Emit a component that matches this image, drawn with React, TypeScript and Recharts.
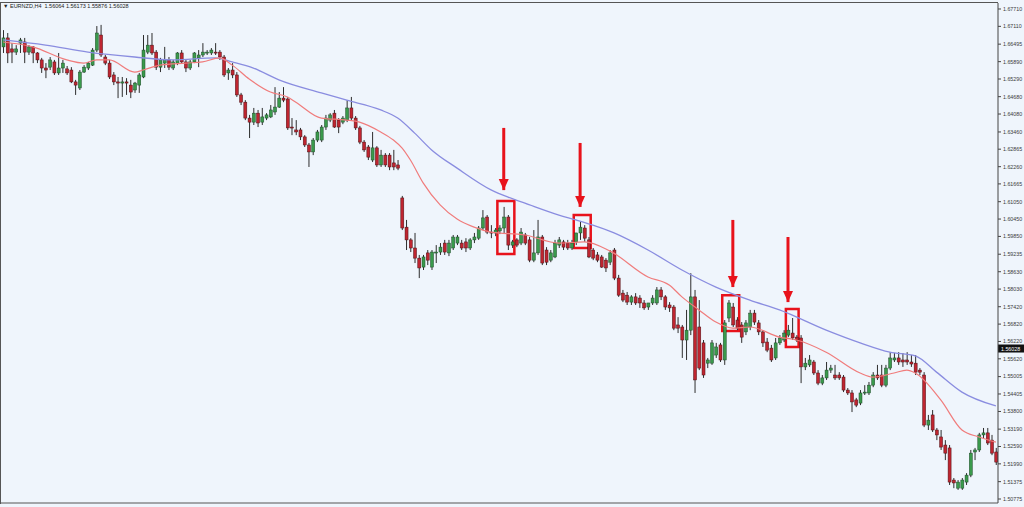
import React from 'react';
import {
  ComposedChart,
  Bar,
  Line,
  XAxis,
  YAxis,
  ReferenceArea,
  ReferenceDot,
  ReferenceLine,
} from 'recharts';

// EURNZD H4 candles: [open, high, low, close]
type Candle = [number, number, number, number];

const openingRange: Candle[] = [
  [1.6640, 1.6698, 1.6619, 1.6671],
  [1.6671, 1.6688, 1.6584, 1.6619],
  [1.6633, 1.6653, 1.6584, 1.6622],
  [1.6622, 1.6646, 1.6612, 1.6633],
  [1.6653, 1.6671, 1.6619, 1.6664],
  [1.6657, 1.6671, 1.6584, 1.6622],
  [1.6622, 1.6646, 1.6612, 1.6640],
  [1.6640, 1.6643, 1.6584, 1.6619],
  [1.6619, 1.6622, 1.6584, 1.6595],
  [1.6595, 1.6602, 1.6550, 1.6567],
  [1.6567, 1.6584, 1.6532, 1.6560],
  [1.6570, 1.6605, 1.6560, 1.6595],
  [1.6588, 1.6595, 1.6543, 1.6550],
  [1.6550, 1.6619, 1.6543, 1.6567],
  [1.6567, 1.6595, 1.6550, 1.6584],
  [1.6564, 1.6574, 1.6543, 1.6550],
  [1.6560, 1.6570, 1.6515, 1.6519],
  [1.6519, 1.6526, 1.6474, 1.6508],
  [1.6498, 1.6560, 1.6491, 1.6553],
  [1.6553, 1.6577, 1.6550, 1.6570],
  [1.6567, 1.6588, 1.6560, 1.6584],
  [1.6577, 1.6636, 1.6574, 1.6629],
  [1.6629, 1.6712, 1.6622, 1.6688],
  [1.6681, 1.6716, 1.6605, 1.6612],
  [1.6605, 1.6612, 1.6577, 1.6584],
  [1.6584, 1.6595, 1.6529, 1.6536],
  [1.6543, 1.6553, 1.6508, 1.6519],
  [1.6519, 1.6536, 1.6463, 1.6515],
  [1.6515, 1.6536, 1.6467, 1.6519],
  [1.6519, 1.6532, 1.6474, 1.6515],
  [1.6508, 1.6526, 1.6463, 1.6484],
  [1.6491, 1.6519, 1.6481, 1.6515],
  [1.6508, 1.6550, 1.6481, 1.6543],
  [1.6536, 1.6681, 1.6532, 1.6629],
  [1.6622, 1.6681, 1.6615, 1.6646],
  [1.6646, 1.6688, 1.6612, 1.6619],
  [1.6622, 1.6629, 1.6560, 1.6570],
  [1.6570, 1.6602, 1.6553, 1.6595],
  [1.6584, 1.6640, 1.6567, 1.6595],
  [1.6595, 1.6605, 1.6560, 1.6570],
  [1.6567, 1.6595, 1.6560, 1.6588],
  [1.6584, 1.6622, 1.6577, 1.6619],
  [1.6619, 1.6629, 1.6581, 1.6588],
  [1.6588, 1.6595, 1.6553, 1.6567],
  [1.6567, 1.6595, 1.6560, 1.6588],
  [1.6588, 1.6622, 1.6584, 1.6619],
  [1.6602, 1.6629, 1.6570, 1.6612],
  [1.6612, 1.6653, 1.6605, 1.6622],
  [1.6619, 1.6629, 1.6612, 1.6622],
  [1.6619, 1.6636, 1.6612, 1.6629],
  [1.6622, 1.6653, 1.6612, 1.6619],
  [1.6622, 1.6629, 1.6595, 1.6605],
  [1.6605, 1.6612, 1.6536, 1.6543],
  [1.6550, 1.6567, 1.6526, 1.6560],
];

const firstSlide: Candle[] = [
  [1.6560, 1.6584, 1.6532, 1.6543],
  [1.6543, 1.6553, 1.6467, 1.6474],
  [1.6474, 1.6481, 1.6439, 1.6449],
  [1.6449, 1.6456, 1.6387, 1.6394],
  [1.6394, 1.6405, 1.6325, 1.6380],
  [1.6380, 1.6429, 1.6370, 1.6411],
  [1.6411, 1.6422, 1.6363, 1.6377],
  [1.6380, 1.6429, 1.6370, 1.6398],
  [1.6394, 1.6411, 1.6387, 1.6405],
  [1.6398, 1.6439, 1.6394, 1.6422],
  [1.6415, 1.6501, 1.6405, 1.6432],
  [1.6432, 1.6484, 1.6429, 1.6463],
  [1.6463, 1.6501, 1.6449, 1.6456],
  [1.6460, 1.6467, 1.6353, 1.6360],
  [1.6363, 1.6394, 1.6335, 1.6360],
  [1.6353, 1.6387, 1.6335, 1.6346],
  [1.6353, 1.6360, 1.6318, 1.6329],
  [1.6329, 1.6335, 1.6294, 1.6301],
  [1.6301, 1.6308, 1.6225, 1.6277],
  [1.6277, 1.6325, 1.6266, 1.6318],
  [1.6318, 1.6353, 1.6311, 1.6346],
  [1.6318, 1.6370, 1.6311, 1.6363],
  [1.6363, 1.6405, 1.6353, 1.6394],
  [1.6387, 1.6411, 1.6380, 1.6405],
  [1.6411, 1.6422, 1.6360, 1.6363],
  [1.6387, 1.6394, 1.6342, 1.6363],
  [1.6380, 1.6401, 1.6373, 1.6394],
  [1.6387, 1.6456, 1.6380, 1.6429],
  [1.6429, 1.6467, 1.6387, 1.6394],
  [1.6394, 1.6401, 1.6353, 1.6360],
  [1.6360, 1.6367, 1.6304, 1.6311],
  [1.6311, 1.6318, 1.6277, 1.6284],
  [1.6294, 1.6301, 1.6249, 1.6259],
  [1.6249, 1.6346, 1.6242, 1.6291],
  [1.6291, 1.6297, 1.6225, 1.6232],
  [1.6232, 1.6284, 1.6225, 1.6266],
  [1.6266, 1.6273, 1.6225, 1.6232],
  [1.6266, 1.6273, 1.6214, 1.6225],
  [1.6239, 1.6284, 1.6214, 1.6225],
  [1.6232, 1.6249, 1.6214, 1.6221],
];

const afterGap: Candle[] = [
  [1.6118, 1.6125, 1.6007, 1.6014],
  [1.6017, 1.6042, 1.5938, 1.5973],
  [1.5973, 1.5979, 1.5931, 1.5945],
  [1.5945, 1.5997, 1.5893, 1.5910],
  [1.5910, 1.5921, 1.5841, 1.5876],
  [1.5879, 1.5921, 1.5869, 1.5914],
  [1.5928, 1.5938, 1.5886, 1.5903],
  [1.5879, 1.5938, 1.5869, 1.5931],
  [1.5928, 1.5955, 1.5893, 1.5931],
  [1.5931, 1.5962, 1.5921, 1.5948],
  [1.5962, 1.5973, 1.5921, 1.5931],
  [1.5928, 1.5973, 1.5917, 1.5962],
  [1.5945, 1.5990, 1.5938, 1.5983],
  [1.5962, 1.5990, 1.5955, 1.5983],
  [1.5962, 1.5973, 1.5938, 1.5945],
  [1.5966, 1.5979, 1.5931, 1.5945],
  [1.5945, 1.5979, 1.5938, 1.5973],
  [1.5973, 1.5997, 1.5962, 1.5983],
  [1.5979, 1.6021, 1.5973, 1.6014],
  [1.6014, 1.6076, 1.6007, 1.6049],
  [1.6052, 1.6059, 1.5993, 1.6000],
  [1.6000, 1.6024, 1.5979, 1.5997],
  [1.5997, 1.6014, 1.5986, 1.6007],
  [1.6004, 1.6024, 1.5993, 1.6014],
  [1.6014, 1.6087, 1.5997, 1.6052],
  [1.6052, 1.6059, 1.5938, 1.5955],
  [1.5955, 1.5973, 1.5945, 1.5966],
  [1.5973, 1.5979, 1.5948, 1.5955],
  [1.5962, 1.6014, 1.5955, 1.6000],
  [1.5990, 1.5997, 1.5955, 1.5962],
  [1.5973, 1.5983, 1.5896, 1.5903],
  [1.5903, 1.6007, 1.5896, 1.5928],
  [1.5928, 1.6042, 1.5921, 1.5983],
  [1.5983, 1.5990, 1.5886, 1.5893],
  [1.5938, 1.5948, 1.5886, 1.5896],
  [1.5903, 1.5938, 1.5896, 1.5928],
  [1.5914, 1.5973, 1.5910, 1.5962],
  [1.5955, 1.5983, 1.5945, 1.5973],
  [1.5966, 1.5973, 1.5938, 1.5948],
  [1.5962, 1.5973, 1.5938, 1.5945],
  [1.5945, 1.5973, 1.5938, 1.5962],
  [1.5966, 1.5997, 1.5955, 1.5997],
  [1.5997, 1.6035, 1.5973, 1.6017],
  [1.6014, 1.6024, 1.5966, 1.5979],
  [1.5973, 1.5983, 1.5910, 1.5914],
  [1.5938, 1.5945, 1.5903, 1.5910],
  [1.5921, 1.5931, 1.5896, 1.5903],
  [1.5914, 1.5921, 1.5876, 1.5879],
  [1.5903, 1.5910, 1.5862, 1.5876],
  [1.5896, 1.5938, 1.5886, 1.5928],
];

const secondSlide: Candle[] = [
  [1.5938, 1.5945, 1.5834, 1.5841],
  [1.5841, 1.5852, 1.5776, 1.5782],
  [1.5789, 1.5800, 1.5758, 1.5765],
  [1.5782, 1.5793, 1.5748, 1.5758],
  [1.5758, 1.5782, 1.5748, 1.5776],
  [1.5776, 1.5789, 1.5748, 1.5755],
  [1.5772, 1.5782, 1.5738, 1.5755],
  [1.5755, 1.5765, 1.5731, 1.5738],
  [1.5741, 1.5755, 1.5731, 1.5755],
  [1.5755, 1.5782, 1.5748, 1.5772],
  [1.5755, 1.5810, 1.5748, 1.5800],
  [1.5800, 1.5810, 1.5765, 1.5776],
  [1.5776, 1.5782, 1.5731, 1.5741],
  [1.5748, 1.5758, 1.5724, 1.5738],
  [1.5741, 1.5748, 1.5661, 1.5668],
  [1.5679, 1.5706, 1.5651, 1.5668],
  [1.5672, 1.5679, 1.5565, 1.5627],
  [1.5627, 1.5731, 1.5558, 1.5661],
  [1.5661, 1.5858, 1.5644, 1.5776],
  [1.5776, 1.5800, 1.5444, 1.5489],
  [1.5672, 1.5765, 1.5523, 1.5530],
  [1.5617, 1.5627, 1.5496, 1.5506],
  [1.5547, 1.5565, 1.5530, 1.5558],
  [1.5547, 1.5627, 1.5541, 1.5617],
  [1.5575, 1.5617, 1.5565, 1.5603],
  [1.5610, 1.5617, 1.5551, 1.5558],
  [1.5558, 1.5696, 1.5541, 1.5686],
  [1.5703, 1.5765, 1.5689, 1.5755],
  [1.5741, 1.5755, 1.5672, 1.5679],
  [1.5696, 1.5706, 1.5661, 1.5668],
  [1.5679, 1.5689, 1.5617, 1.5637],
  [1.5655, 1.5696, 1.5644, 1.5686],
  [1.5672, 1.5731, 1.5661, 1.5720],
  [1.5720, 1.5731, 1.5679, 1.5689],
  [1.5686, 1.5696, 1.5644, 1.5655],
  [1.5655, 1.5661, 1.5603, 1.5617],
  [1.5620, 1.5634, 1.5585, 1.5592],
  [1.5599, 1.5610, 1.5551, 1.5558],
  [1.5565, 1.5634, 1.5558, 1.5617],
  [1.5617, 1.5644, 1.5610, 1.5634],
  [1.5627, 1.5661, 1.5620, 1.5651],
  [1.5644, 1.5679, 1.5637, 1.5661],
  [1.5651, 1.5703, 1.5627, 1.5634],
  [1.5637, 1.5644, 1.5620, 1.5627],
];

const finalLeg: Candle[] = [
  [1.5634, 1.5644, 1.5478, 1.5534],
  [1.5534, 1.5565, 1.5523, 1.5547],
  [1.5541, 1.5575, 1.5534, 1.5558],
  [1.5551, 1.5558, 1.5506, 1.5513],
  [1.5513, 1.5523, 1.5471, 1.5478],
  [1.5478, 1.5506, 1.5471, 1.5496],
  [1.5496, 1.5551, 1.5489, 1.5523],
  [1.5523, 1.5541, 1.5513, 1.5530],
  [1.5506, 1.5541, 1.5489, 1.5496],
  [1.5506, 1.5516, 1.5489, 1.5496],
  [1.5499, 1.5506, 1.5447, 1.5454],
  [1.5454, 1.5461, 1.5437, 1.5444],
  [1.5444, 1.5454, 1.5378, 1.5413],
  [1.5420, 1.5427, 1.5395, 1.5402],
  [1.5409, 1.5454, 1.5402, 1.5444],
  [1.5444, 1.5471, 1.5437, 1.5447],
  [1.5444, 1.5482, 1.5437, 1.5471],
  [1.5471, 1.5516, 1.5464, 1.5506],
  [1.5506, 1.5541, 1.5489, 1.5496],
  [1.5506, 1.5541, 1.5464, 1.5471],
  [1.5471, 1.5541, 1.5464, 1.5530],
  [1.5530, 1.5585, 1.5523, 1.5565],
  [1.5558, 1.5582, 1.5551, 1.5565],
  [1.5565, 1.5585, 1.5541, 1.5551],
  [1.5558, 1.5582, 1.5534, 1.5551],
  [1.5558, 1.5585, 1.5541, 1.5551],
  [1.5551, 1.5575, 1.5534, 1.5544],
  [1.5547, 1.5575, 1.5506, 1.5516],
  [1.5523, 1.5530, 1.5506, 1.5516],
  [1.5506, 1.5516, 1.5326, 1.5333],
  [1.5333, 1.5368, 1.5316, 1.5350],
  [1.5368, 1.5385, 1.5309, 1.5316],
  [1.5316, 1.5323, 1.5281, 1.5299],
  [1.5292, 1.5316, 1.5247, 1.5257],
  [1.5264, 1.5281, 1.5212, 1.5236],
  [1.5254, 1.5264, 1.5126, 1.5136],
  [1.5143, 1.5150, 1.5115, 1.5133],
  [1.5115, 1.5143, 1.5109, 1.5136],
  [1.5115, 1.5150, 1.5109, 1.5143],
  [1.5136, 1.5167, 1.5126, 1.5160],
  [1.5160, 1.5247, 1.5153, 1.5236],
  [1.5240, 1.5254, 1.5212, 1.5247],
  [1.5247, 1.5306, 1.5240, 1.5299],
  [1.5299, 1.5323, 1.5288, 1.5306],
  [1.5306, 1.5323, 1.5264, 1.5271],
  [1.5281, 1.5299, 1.5229, 1.5236],
  [1.5240, 1.5254, 1.5195, 1.5205],
];

// moving averages, read at these bar indices
const slowMaBars = [0, 10, 20, 31, 40, 50, 54, 59, 65, 75, 81, 89, 93, 97, 101, 107, 115, 119, 123, 131, 135, 139, 144, 152, 160, 168, 176, 183, 194, 202, 209, 215, 220, 226, 234];
const slowMa = [1.6664, 1.6646, 1.6622, 1.6605, 1.6595, 1.6602, 1.6588, 1.6567, 1.6526, 1.6481, 1.6456, 1.6422, 1.6394, 1.6342, 1.6284, 1.6221, 1.6146, 1.6121, 1.6100, 1.6059, 1.6042, 1.6024, 1.5997, 1.5938, 1.5869, 1.5810, 1.5765, 1.5731, 1.5661, 1.5617, 1.5585, 1.5572, 1.5516, 1.5447, 1.5399];

const fastMaBars = [0, 7, 15, 19, 22, 25, 31, 33, 37, 43, 47, 51, 54, 58, 63, 67, 69, 75, 81, 84, 89, 92, 94, 96, 99, 103, 107, 111, 115, 123, 131, 137, 143, 152, 157, 160, 164, 168, 172, 176, 183, 187, 194, 202, 205, 210, 213, 215, 221, 226, 230, 234];
const fastMa = [1.6657, 1.6640, 1.6595, 1.6584, 1.6595, 1.6595, 1.6553, 1.6560, 1.6577, 1.6584, 1.6588, 1.6602, 1.6577, 1.6529, 1.6484, 1.6467, 1.6449, 1.6394, 1.6387, 1.6380, 1.6346, 1.6318, 1.6291, 1.6249, 1.6170, 1.6094, 1.6045, 1.6017, 1.6000, 1.5990, 1.5962, 1.5966, 1.5935, 1.5845, 1.5817, 1.5776, 1.5731, 1.5689, 1.5668, 1.5672, 1.5637, 1.5627, 1.5585, 1.5513, 1.5499, 1.5513, 1.5523, 1.5513, 1.5420, 1.5316, 1.5292, 1.5274];

const priceTicks = [
  1.6771, 1.6711, 1.66495, 1.6589, 1.6529, 1.6468, 1.6408, 1.6346, 1.62865, 1.6226,
  1.61665, 1.6105, 1.6045, 1.5985, 1.59235, 1.5863, 1.5803, 1.5742, 1.5682, 1.5622,
  1.5562, 1.55005, 1.54405, 1.538, 1.5319, 1.5259, 1.5199, 1.51375, 1.50775,
];

const titleText = 'EURNZD,H4  1.56064 1.56173 1.55876 1.56028';
const lastPrice = 1.56028;

// highlighted bars (index range, price range)
const boxFrom = [117, 135, 170, 185];
const boxTo = [120, 138, 173, 187];
const boxHigh = [1.6107, 1.6059, 1.5782, 1.5734];
const boxLow = [1.5924, 1.5945, 1.5658, 1.5603];

// arrows pointing down at them
const arrowBar = [118, 136, 172, 185];
const arrowTail = [1.6360, 1.6308, 1.6042, 1.5983];
const arrowTip = [1.6145, 1.6087, 1.5810, 1.5758];

const candles = [...openingRange, ...firstSlide, ...afterGap, ...secondSlide, ...finalLeg];
const slowMap = new Map(slowMaBars.map((b, k) => [b, slowMa[k]]));
const fastMap = new Map(fastMaBars.map((b, k) => [b, fastMa[k]]));

const table = candles.map(([open, high, low, close], i) => ({
  i,
  open,
  high,
  low,
  close,
  range: [low, high],
  slow: slowMap.get(i) ?? null,
  fast: fastMap.get(i) ?? null,
}));

const BG = '#eff5fc';
const UP = '#3a9a4c';
const DOWN = '#bf2530';
const ARROW = '#e8121b';

function CandleShape(props: any) {
  const { x, y, width, height, payload } = props;
  if (!payload) return null;
  const { open, high, low, close } = payload;
  const top = Math.min(y, y + height);
  const h = Math.abs(height);
  const span = high - low || 1;
  const yOf = (v: number) => top + ((high - v) / span) * h;
  const cx = x + width / 2;
  const up = close >= open;
  const bTop = yOf(Math.max(open, close));
  const bBot = yOf(Math.min(open, close));
  return (
    <g>
      <line x1={cx} x2={cx} y1={top} y2={top + h} stroke="#2d2d2d" strokeWidth={1} />
      <rect
        x={x}
        y={bTop}
        width={width}
        height={Math.max(1, bBot - bTop)}
        fill={up ? UP : DOWN}
        stroke={up ? '#1f4a28' : '#4c1014'}
        strokeWidth={0.5}
      />
    </g>
  );
}

function ArrowHead(props: any) {
  const { cx, cy } = props;
  return <polygon points={`${cx - 5},${cy - 11} ${cx + 5},${cy - 11} ${cx},${cy}`} fill={ARROW} />;
}

function PriceTag(props: any) {
  const vb = props.viewBox || {};
  const x = (vb.x ?? 0) + (vb.width ?? 0);
  const y = vb.y ?? 0;
  return (
    <g>
      <rect x={x} y={y - 2.5} width={26} height={8} fill="#111" />
      <text x={x + 3} y={y + 3.5} fontSize={5.3} fill="#fff" fontFamily="Liberation Sans, Arial, sans-serif">
        {lastPrice.toFixed(5)}
      </text>
    </g>
  );
}

export default function App() {
  return (
    <div style={{ position: 'absolute', left: 0, top: 0, width: 1024, height: 507, background: BG, overflow: 'hidden' }}>
      <ComposedChart
        width={1024}
        height={507}
        data={table}
        margin={{ top: 3, right: 0, bottom: 0, left: 1 }}
        barCategoryGap={0}
      >
        <XAxis
          dataKey="i"
          type="category"
          height={4}
          tick={false}
          tickLine={{ stroke: '#555' }}
          tickSize={3}
          axisLine={{ stroke: '#555' }}
          interval={10}
        />
        <YAxis
          orientation="right"
          type="number"
          domain={[1.50637, 1.67917]}
          allowDataOverflow
          ticks={priceTicks}
          interval={0}
          width={26}
          tickSize={3}
          tickMargin={2}
          tickFormatter={(v: number) => v.toFixed(5)}
          tick={{ fontSize: 5.3, fill: '#3a3a3a', fontFamily: 'Liberation Sans, Arial, sans-serif' }}
          axisLine={{ stroke: '#444' }}
          tickLine={{ stroke: '#444' }}
        />
        <Line
          dataKey="slow"
          type="monotone"
          connectNulls
          dot={false}
          stroke="#8a8de0"
          strokeWidth={1.3}
          isAnimationActive={false}
        />
        <Line
          dataKey="fast"
          type="monotone"
          connectNulls
          dot={false}
          stroke="#f07c7c"
          strokeWidth={1.2}
          isAnimationActive={false}
        />
        <Bar dataKey="range" barSize={3} shape={<CandleShape />} isAnimationActive={false} />
        {boxFrom.map((from, k) => (
          <ReferenceArea
            key={`box-${k}`}
            x1={from}
            x2={boxTo[k]}
            y1={boxLow[k]}
            y2={boxHigh[k]}
            fill="none"
            fillOpacity={0}
            stroke={ARROW}
            strokeWidth={2.5}
            ifOverflow="visible"
          />
        ))}
        {arrowBar.map((bar, k) => (
          <ReferenceLine
            key={`shaft-${k}`}
            segment={[
              { x: bar, y: arrowTail[k] },
              { x: bar, y: arrowTip[k] },
            ]}
            stroke={ARROW}
            strokeWidth={3}
            ifOverflow="visible"
          />
        ))}
        {arrowBar.map((bar, k) => (
          <ReferenceDot
            key={`head-${k}`}
            x={bar}
            y={arrowTip[k]}
            shape={(p: any) => <ArrowHead {...p} />}
            ifOverflow="visible"
          />
        ))}
        <ReferenceLine y={lastPrice} stroke="none" label={(p: any) => <PriceTag {...p} />} ifOverflow="visible" />
      </ComposedChart>
      <div
        style={{
          position: 'absolute',
          left: 0,
          top: 2,
          width: 997,
          height: 501,
          borderTop: '1px solid #555',
          borderLeft: '1px solid #555',
          pointerEvents: 'none',
        }}
      />
      <div
        style={{
          position: 'absolute',
          left: 3,
          top: 3,
          fontSize: 5.5,
          lineHeight: '7px',
          color: '#222',
          fontFamily: 'Liberation Sans, Arial, sans-serif',
          whiteSpace: 'pre',
        }}
      >
        {'\u25BC ' + titleText}
      </div>
    </div>
  );
}
